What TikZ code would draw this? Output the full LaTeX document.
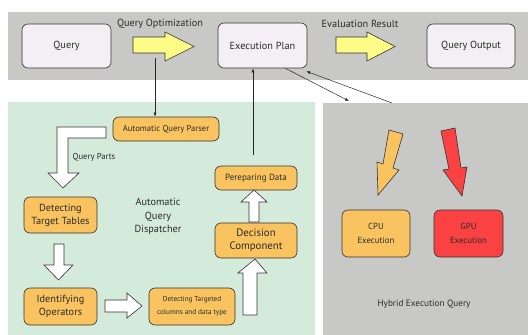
\documentclass[tikz,border=0pt]{standalone}
\usepackage{fontspec}
\setmainfont{PT Sans}
\usetikzlibrary{arrows.meta}
\definecolor{bandgray}{HTML}{C8C9C6}
\definecolor{panelgreen}{HTML}{D4EADB}
\definecolor{boxorange}{HTML}{F9C35F}
\definecolor{boxred}{HTML}{FB4242}
\definecolor{arryellow}{HTML}{FCFC86}
\definecolor{boxlav}{HTML}{F3EFF4}
\definecolor{txt}{HTML}{2B2B2B}
\tikzset{
  topbox/.style={draw=black!80, line width=0.6pt, fill=boxlav, rounded corners=6pt, text=txt, align=center, font=\fontsize{10.3}{11}\selectfont},
  obox/.style={draw=black!80, line width=0.6pt, fill=boxorange, rounded corners=6pt, text=txt, align=center},
  blockarr/.style={draw=black!80, line width=0.6pt, fill=white, line join=miter},
  thin/.style={draw=black!85, line width=0.5pt, -{Latex[length=4pt,width=3pt]}},
  lbl/.style={text=txt, align=center}
}
\begin{document}
\begin{tikzpicture}[x=1pt,y=-1pt]
\useasboundingbox (0,0) rectangle (528,335);
% background panels
\fill[bandgray] (8,12) rectangle (528,80);
\fill[panelgreen] (8,102) rectangle (315,335);
\fill[bandgray] (323,103) rectangle (528,335);

% top boxes
\node[topbox, minimum width=89pt, minimum height=44pt] (query) at (66.5,46) {Query};
\node[topbox, minimum width=89pt, minimum height=45pt] (ep) at (262.5,45.5) {Execution Plan};
\node[topbox, minimum width=88pt, minimum height=44pt] (qout) at (471,46) {Query Output};

% yellow arrows
\draw[blockarr, fill=arryellow] (133,37) -- (165,37) -- (165,32) -- (194,46.5) -- (165,61) -- (165,53) -- (133,53) -- cycle;
\draw[blockarr, fill=arryellow] (336,37) -- (367,37) -- (367,32) -- (395,46.5) -- (367,61) -- (367,53) -- (336,53) -- cycle;
\node[lbl, font=\fontsize{10.3}{11}\selectfont] (qolbl) at (160,23.5) {Query Optimization};
\node[lbl, font=\fontsize{10.3}{11}\selectfont] (erlbl) at (360,23.5) {Evaluation Result};
\coordinate (qoarr) at (155,58);

% green panel boxes
\node[obox, minimum width=106pt, minimum height=24pt, font=\fontsize{8.6}{10}\selectfont] (parser) at (166,129) {Automatic Query Parser};
\node[obox, minimum width=73pt, minimum height=36pt, font=\fontsize{10.3}{13}\selectfont] (dtt) at (60.5,215) {Detecting\\Target Tables};
\node[obox, minimum width=73pt, minimum height=37pt, font=\fontsize{10.3}{13}\selectfont] (iop) at (60.5,306.5) {Identifying\\Operators};
\node[obox, minimum width=86pt, minimum height=37pt, font=\fontsize{7.2}{13}\selectfont] (dtc) at (192,306.5) {Detecting Targeted\\columns and data type};
\node[obox, minimum width=82pt, minimum height=35pt, font=\fontsize{10.8}{13}\selectfont] (dec) at (256,240.5) {Decision\\Component};
\node[obox, minimum width=82pt, minimum height=24pt, font=\fontsize{9}{10}\selectfont] (prep) at (256,178) {Pereparing Data};
\node[lbl, font=\fontsize{10.3}{13.5}\selectfont] (aqd) at (158,216.5) {Automatic\\Query\\Dispatcher};
\node[lbl, font=\fontsize{8.6}{10}\selectfont] (qp) at (94,157) {Query Parts};

% white block arrows
\draw[blockarr] (106,127) -- (57,127) -- (57,173) -- (48,173) -- (63,188) -- (79,173) -- (68,173) -- (68,138) -- (106,138) -- cycle;
\draw[blockarr] (54,244) -- (64,244) -- (64,265) -- (73,265) -- (58.5,280) -- (44,265) -- (54,265) -- cycle;
\draw[blockarr] (105,300) -- (127,300) -- (127,293) -- (142,306) -- (127,318) -- (127,312) -- (105,312) -- cycle;
\draw[blockarr] (243,315) -- (243,273) -- (238,273) -- (255,259) -- (267,273) -- (257,273) -- (257,315) -- cycle;
\draw[blockarr] (249,222) -- (249,202) -- (241,202) -- (254,190) -- (267,202) -- (259,202) -- (259,222) -- cycle;

% thin connectors
\coordinate (prepup) at (253,155);
\draw[thin] (qoarr) -- (parser.north -| qoarr);
\draw[thin] (prepup) -- (ep.south -| prepup);
\coordinate (hybin) at (349,101);
\coordinate (hybout) at (392,103);
\draw[thin] (ep.south east) ++(-22,0) coordinate (epout) -- (hybin);
\draw[thin] (hybout) -- ([xshift=-1pt,yshift=-3pt]ep.south east);

% hybrid panel
\draw[blockarr, fill=boxorange] (389,130) -- (403,134) -- (393,168) -- (399,170) -- (378,195) -- (377,162) -- (383,164) -- cycle;
\draw[blockarr, fill=boxred] (441,131) -- (455,128) -- (461,168) -- (467,167) -- (462,196) -- (443,170) -- (449,169) -- cycle;
\node[obox, minimum width=68pt, minimum height=47pt, font=\fontsize{8.8}{14}\selectfont] (cpu) at (376,233.5) {CPU\\Execution};
\node[obox, fill=boxred, minimum width=69pt, minimum height=47pt, font=\fontsize{8.8}{14}\selectfont] (gpu) at (468.5,233.5) {GPU\\Execution};
\node[lbl, font=\fontsize{9.2}{10}\selectfont] (hyb) at (424,304) {Hybrid Execution Query};
\end{tikzpicture}
\end{document}
